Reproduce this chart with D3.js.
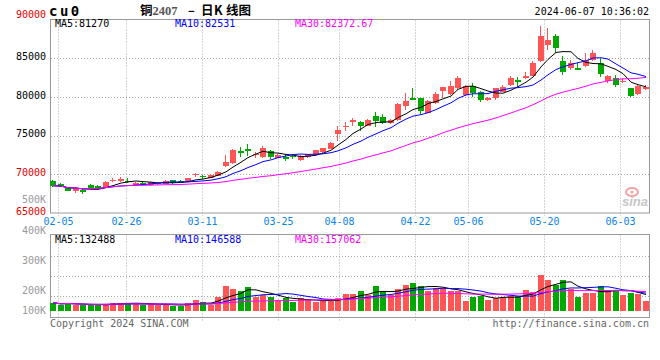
<!DOCTYPE html>
<html><head><meta charset="utf-8">
<script src="https://cdn.jsdelivr.net/npm/d3@7/dist/d3.min.js"></script>
<style>body{margin:0;background:#fff;}svg{display:block;}</style>
</head><body>
<svg id="c" width="660" height="360"></svg>
<script>
const dates = ["02-02","02-05","02-06","02-07","02-08","02-19","02-20","02-21","02-22","02-23","02-26","02-27","02-28","02-29","03-01","03-04","03-05","03-06","03-07","03-08","03-11","03-12","03-13","03-14","03-15","03-18","03-19","03-20","03-21","03-22","03-25","03-26","03-27","03-28","03-29","04-01","04-02","04-03","04-08","04-09","04-10","04-11","04-12","04-15","04-16","04-17","04-18","04-19","04-22","04-23","04-24","04-25","04-26","04-29","04-30","05-06","05-07","05-08","05-09","05-10","05-13","05-14","05-15","05-16","05-17","05-20","05-21","05-22","05-23","05-24","05-27","05-28","05-29","05-30","05-31","06-03","06-04","06-05","06-06","06-07"];
const open = [69170,68750,68270,67840,67970,68620,68530,68320,69200,69170,69170,68710,68920,68620,68790,68710,69260,69130,69040,69950,69750,69560,69780,71070,71460,73010,73230,72490,72145,73010,72145,72270,72300,71850,72145,72490,72790,73360,75210,76070,76720,76720,76280,77530,77440,76590,77015,78820,79820,79820,77960,79170,80670,80400,81110,80245,81410,80670,79510,79820,80670,81540,82180,82480,82700,84640,86700,87870,84640,83700,83770,83990,84770,84420,82090,82400,81930,81110,80380,81000];
const close = [68530,68400,67880,68060,67750,68270,68320,69040,69300,69390,69040,68920,68620,68970,68880,69130,68920,68840,69480,70050,69650,69910,70340,71630,73140,72750,72920,72660,73360,72270,72490,72070,72200,72360,72580,73140,73360,74080,75720,76200,77015,76240,77015,76890,76670,77015,79040,79510,79600,78090,79470,80340,81240,81400,82400,81410,80540,79600,79820,81110,81320,82480,81890,82700,84420,87870,87350,86360,83260,84340,83570,84770,85630,83050,82700,81540,82090,80120,81450,81300];
const high = [69300,68850,68350,68230,68050,68700,68600,69100,69480,69600,69480,68980,68980,69030,69040,69200,69320,69200,69550,70210,69910,69980,70420,72490,73270,73570,73915,72880,73660,73140,72600,72580,72620,72450,72650,73200,73450,74150,76240,76800,77235,76890,77100,78090,77750,77100,79170,80465,81110,79900,79550,80630,81320,82000,82700,81500,81800,80750,79950,81200,81500,82700,82600,83260,84600,89160,88860,88120,85280,84770,84340,85670,86060,85030,82830,82830,82400,81200,81600,81500];
const low = [68450,68350,67850,67545,67420,68200,68250,68300,68970,69000,68830,68650,68560,68560,68620,68650,68850,68780,68980,69690,69390,69500,69720,71000,71330,72270,72360,72145,72100,71980,72050,71630,71980,71720,72080,72400,72650,73300,74340,75630,76150,75590,76200,76150,76500,76500,76800,78310,79510,77880,77880,79100,79950,80250,80890,80100,79990,79340,79400,79700,80550,81450,81300,82400,82600,84500,85970,85710,82830,83480,83400,83900,84700,82570,81760,81240,81700,80000,80300,80850];
const volume = [72000,51000,72000,51000,51000,51000,51000,60000,72000,72000,72000,60000,51000,60000,51000,60000,42000,42000,72000,96000,81000,51000,126000,225000,198000,177000,216000,120000,141000,126000,96000,117000,75000,111000,96000,81000,87000,90000,117000,150000,150000,177000,141000,222000,177000,141000,198000,231000,252000,222000,180000,201000,201000,180000,180000,87000,126000,135000,96000,117000,126000,132000,132000,186000,171000,321000,276000,231000,276000,192000,126000,156000,162000,222000,186000,186000,141000,162000,150000,87000];
const priceTicks = [90000,85000,80000,75000,70000,65000];
const priceTickColors = ["#e00000","#000000","#000000","#000000","#e00000","#e00000"];
const volTicks = [500000,400000,300000,200000,100000];
const volTickLabels = ["500K","400K","300K","200K","100K"];
const dateTicks = ["02-05","02-26","03-11","03-25","04-08","04-22","05-06","05-20","06-03"];
const maPeriods = [5,10,30];
const maColors = ["#000000","#0000ff","#ff00ff"];
const priceMaLabels = ["MA5:81270","MA10:82531","MA30:82372.67"];
const volMaLabels = ["MA5:132488","MA10:146588","MA30:157062"];
const titleParts = ["铜","2407","–","日","K","线图"];

const N = dates.length;
const L = 50, R = 650, mainTop = 19.5, mainBot = 213, volTop = 234.5, volBot = 317.5, volBase = 310.7;
const RED = "#ff5555", GREEN = "#00a800", MONO = "'DejaVu Sans Mono', monospace";

const svg = d3.select("#c");
const xb = d3.scaleBand().domain(d3.range(N)).range([L, R]).padding(0);
const tx = d3.scaleLinear().domain([0, N - 1]).range([L, R]);
const y = d3.scaleLinear().domain([65000, 90000]).range([mainBot, mainTop]);
const vy = d3.scaleLinear().domain([0, 100000]).range([volBase, volBase - 11.13]);
const vLab = d3.scaleLinear().domain([200000, 500000]).range([294, 203.3]);
const cx = i => Math.round(xb(i));

function ma(arr, n) { return arr.map((_, i) => d3.mean(arr.slice(Math.max(0, i - n + 1), i + 1))); }

// frames
svg.append("rect").attr("x", L + 0.5).attr("y", mainTop).attr("width", R - L - 1).attr("height", mainBot - mainTop)
  .attr("fill", "none").attr("stroke", "#999");
svg.append("rect").attr("x", L + 0.5).attr("y", volTop).attr("width", R - L - 1).attr("height", volBot - volTop)
  .attr("fill", "none").attr("stroke", "#999");

// grid
const grid = svg.append("g").attr("stroke", "#aaa").attr("stroke-dasharray", "1,2");
grid.selectAll("line.h").data(priceTicks.slice(1, -1)).join("line")
  .attr("x1", L + 1).attr("x2", R - 1).attr("y1", d => Math.round(y(d)) + 0.5).attr("y2", d => Math.round(y(d)) + 0.5);
const tickIdx = dateTicks.map(d => dates.indexOf(d));
grid.selectAll("line.v").data(tickIdx).join("line")
  .attr("x1", i => Math.round(tx(i)) + 0.5).attr("x2", i => Math.round(tx(i)) + 0.5)
  .attr("y1", mainTop + 1).attr("y2", mainBot + 3);
grid.selectAll("line.vv").data(tickIdx).join("line")
  .attr("x1", i => Math.round(tx(i)) + 0.5).attr("x2", i => Math.round(tx(i)) + 0.5)
  .attr("y1", volTop + 1).attr("y2", volBot + 3);
grid.selectAll("line.vh").data([1, 2, 3]).join("line")
  .attr("x1", L + 1).attr("x2", R - 1)
  .attr("y1", k => Math.round(volTop + 1 + k * 20) + 0.5).attr("y2", k => Math.round(volTop + 1 + k * 20) + 0.5);

// watermark
const wm = svg.append("g").attr("opacity", 0.55);
wm.append("ellipse").attr("cx", 632).attr("cy", 192).attr("rx", 6).attr("ry", 4).attr("fill", "none").attr("stroke", "#e06060").attr("stroke-width", 2);
wm.append("circle").attr("cx", 632).attr("cy", 192).attr("r", 1.6).attr("fill", "#e06060");
wm.append("text").attr("x", 622).attr("y", 206).text("sina").attr("font-family", "Arial, 'Liberation Sans'")
  .attr("font-style", "italic").attr("font-weight", "bold").attr("font-size", 13).attr("fill", "#999");

// candles
const cg = svg.append("g");
cg.selectAll("rect.w").data(d3.range(N)).join("rect")
  .attr("x", i => cx(i) + 2).attr("width", 1)
  .attr("y", i => Math.round(y(high[i]))).attr("height", i => Math.max(1, Math.round(y(low[i]) - y(high[i]))))
  .attr("fill", i => close[i] >= open[i] ? RED : GREEN);
cg.selectAll("rect.b").data(d3.range(N)).join("rect")
  .attr("x", i => cx(i)).attr("width", 6)
  .attr("y", i => Math.round(y(Math.max(open[i], close[i]))))
  .attr("height", i => Math.max(1, Math.round(Math.abs(y(open[i]) - y(close[i])))))
  .attr("fill", i => close[i] >= open[i] ? RED : GREEN);

// price MAs
maPeriods.forEach((p, k) => {
  const m = ma(close, p);
  svg.append("path").datum(d3.range(N))
    .attr("d", d3.line().x(i => cx(i) + 3).y(i => y(m[i])))
    .attr("fill", "none").attr("stroke", maColors[k]).attr("stroke-width", 1);
});

// volume bars
svg.append("g").selectAll("rect").data(d3.range(N)).join("rect")
  .attr("x", i => cx(i)).attr("width", 6)
  .attr("y", i => Math.round(vy(volume[i]))).attr("height", i => Math.round(volBase) - Math.round(vy(volume[i])))
  .attr("fill", i => close[i] >= open[i] ? RED : GREEN);
maPeriods.forEach((p, k) => {
  const m = ma(volume, p);
  svg.append("path").datum(d3.range(N))
    .attr("d", d3.line().x(i => cx(i) + 3).y(i => vy(m[i])))
    .attr("fill", "none").attr("stroke", maColors[k]).attr("stroke-width", 1);
});

// texts
const T = (x, yy, s, fill, anchor, size, fam) => svg.append("text").attr("x", x).attr("y", yy).text(s)
  .attr("fill", fill).attr("text-anchor", anchor || "start").attr("font-size", size || 10).attr("font-family", fam || MONO);

priceTicks.forEach((v, k) => T(46, k === 0 ? 18.3 : y(v) + 1.8, v, priceTickColors[k], "end"));
volTicks.forEach((v, k) => T(46, Math.min(vLab(v), volBot - 3.2), volTickLabels[k], "#999", "end"));
tickIdx.forEach((i, k) => T(Math.round(tx(i)) + 0.5, 225, dateTicks[k], "#0a84e8", "middle"));
const maX = [55, 175, 295];
priceMaLabels.forEach((s, k) => T(maX[k], 27, s, maColors[k]));
volMaLabels.forEach((s, k) => T(maX[k], 242.5, s, maColors[k]));

T(49, 15.5, "cu0", "#000", "start", 14).attr("font-weight", "bold").attr("letter-spacing", 2.5);
const CJK = "'Noto Sans CJK SC', sans-serif";
const titleX = [140, 152.5, 188, 201, 214, 226];
titleParts.forEach((s, k) => {
  const t = T(titleX[k], 15, s, k === 1 ? "#555" : "#000", "start", 12.5, k === 1 ? "'Liberation Serif', serif" : CJK);
  t.attr("font-weight", "bold");
});
T(649, 15, "2024-06-07 10:36:02", "#000", "end");
T(50, 327, "Copyright 2024 SINA.COM", "#666");
T(649, 327, "http://finance.sina.com.cn", "#666", "end");
</script>
</body></html>
